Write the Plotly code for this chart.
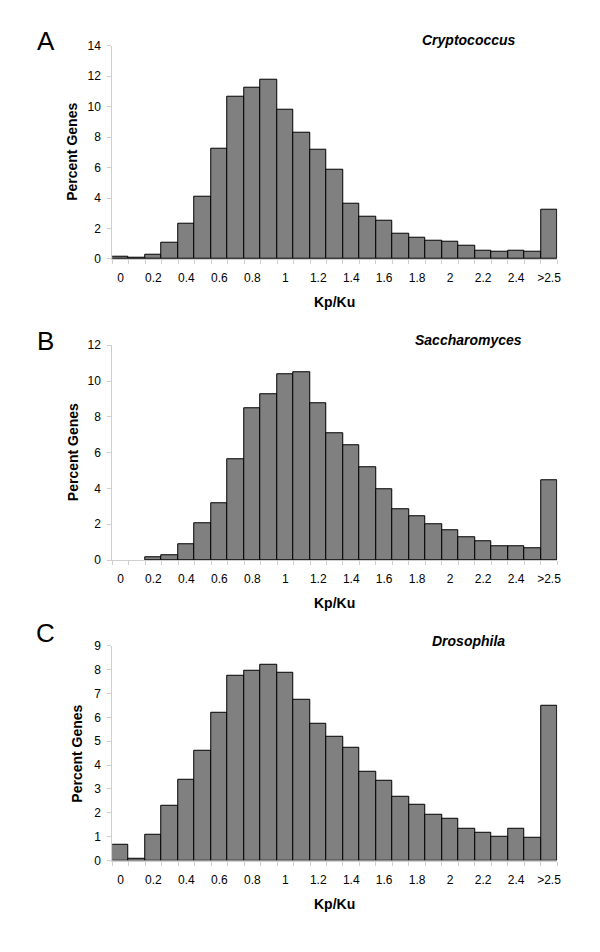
import plotly.graph_objects as go

W, H = 600, 952

categories = ["0", "0.1", "0.2", "0.3", "0.4", "0.5", "0.6", "0.7", "0.8", "0.9",
              "1", "1.1", "1.2", "1.3", "1.4", "1.5", "1.6", "1.7", "1.8", "1.9",
              "2", "2.1", "2.2", "2.3", "2.4", "2.5", ">2.5"]

cryptococcus = [0.15, 0.06, 0.28, 1.05, 2.33, 4.07, 7.22, 10.65, 11.23, 11.74,
                9.79, 8.30, 7.16, 5.89, 3.62, 2.80, 2.52, 1.64, 1.38, 1.19,
                1.10, 0.84, 0.54, 0.47, 0.54, 0.47, 3.21]

saccharomyces = [0, 0, 0.15, 0.29, 0.90, 2.06, 3.16, 5.61, 8.48, 9.25,
                 10.40, 10.51, 8.75, 7.10, 6.40, 5.19, 3.98, 2.83, 2.44, 1.98,
                 1.69, 1.28, 1.06, 0.79, 0.79, 0.68, 4.48]

drosophila = [0.67, 0.06, 1.09, 2.28, 3.40, 4.60, 6.21, 7.73, 7.94, 8.22,
              7.86, 6.74, 5.75, 5.17, 4.72, 3.70, 3.33, 2.66, 2.34, 1.93,
              1.76, 1.35, 1.18, 0.98, 1.35, 0.94, 6.50]

panel_letters = ["A", "B", "C"]
species = ["Cryptococcus", "Saccharomyces", "Drosophila"]
y_max = [14, 12, 9]
y_step = [2, 2, 1]
series = [cryptococcus, saccharomyces, drosophila]

x_title = "Kp/Ku"
y_title = "Percent Genes"

FONT = "Liberation Sans, Arial, sans-serif"
AXIS_GRAY = "#cfcfcf"

# pixel layout of each panel's plot area (top, bottom)
panel_px = [(39.3, 255.7), (343.3, 561.3), (648.3, 866.3)]
x_left_px, x_right_px = 113, 561
ytitle_x_px = [73, 73, 78]
letter_y_px = [34.5, 339, 635]
species_y_px = [34, 338, 643]

def px(x):
    return x / W

def py(y):
    return 1 - y / H

fig = go.Figure()
idx = list(range(len(categories)))
label_idx = idx[::2]

for i, vals in enumerate(series):
    n = i + 1
    xa = "x" if n == 1 else f"x{n}"
    ya = "y" if n == 1 else f"y{n}"
    fig.add_trace(go.Bar(
        x=idx, y=vals, xaxis=xa, yaxis=ya, width=1,
        marker=dict(color="#808080",
                    line=dict(color="#000000", width=[0 if v == 0 else 1 for v in vals])),
        showlegend=False, hoverinfo="skip"))
    top, bot = panel_px[i]
    xkey = "xaxis" if n == 1 else f"xaxis{n}"
    ykey = "yaxis" if n == 1 else f"yaxis{n}"
    fig.layout[xkey] = dict(
        domain=[px(x_left_px), px(x_right_px)], anchor=ya,
        range=[-0.5, len(categories) - 0.5],
        tickmode="array", tickvals=label_idx,
        ticktext=[categories[k] for k in label_idx],
        ticks="", ticklabelstandoff=8,
        showline=True, linecolor=AXIS_GRAY, linewidth=1,
        showgrid=False, zeroline=False,
        tickfont=dict(family=FONT, size=12, color="#000"),
        minor=dict(tick0=-0.5, dtick=1, ticks="outside", ticklen=4,
                   tickcolor=AXIS_GRAY, tickwidth=1, showgrid=False),
        fixedrange=True)
    fig.layout[ykey] = dict(
        domain=[py(bot), py(top)], anchor=xa,
        range=[0, y_max[i]], tickmode="linear", tick0=0, dtick=y_step[i],
        ticks="outside", ticklen=4, tickcolor=AXIS_GRAY, ticklabelstandoff=4,
        showline=True, linecolor=AXIS_GRAY, linewidth=1,
        showgrid=False, zeroline=False,
        tickfont=dict(family=FONT, size=12, color="#000"),
        fixedrange=True)

    # panel letter
    fig.add_annotation(xref="paper", yref="paper", x=px(46), y=py(letter_y_px[i]),
                       text=panel_letters[i], showarrow=False,
                       font=dict(family=FONT, size=26, color="#000"),
                       xanchor="center", yanchor="middle")
    # species name
    fig.add_annotation(xref="paper", yref="paper", x=px(472), y=py(species_y_px[i]),
                       text=f"<b><i>{species[i]}</i></b>", showarrow=False,
                       font=dict(family=FONT, size=14, color="#000"),
                       xanchor="center", yanchor="middle")
    # y title
    fig.add_annotation(xref="paper", yref="paper", x=px(ytitle_x_px[i]),
                       y=py((top + bot) / 2),
                       text=f"<b>{y_title}</b>", showarrow=False, textangle=-90,
                       font=dict(family=FONT, size=14, color="#000"),
                       xanchor="center", yanchor="middle")
    # x title
    fig.add_annotation(xref="paper", yref="paper", x=px((x_left_px + x_right_px) / 2),
                       y=py(bot + 44),
                       text=f"<b>{x_title}</b>", showarrow=False,
                       font=dict(family=FONT, size=14, color="#000"),
                       xanchor="center", yanchor="middle")

fig.update_layout(
    width=W, height=H, margin=dict(l=0, r=0, t=0, b=0),
    paper_bgcolor="white", plot_bgcolor="white",
    bargap=0, font=dict(family=FONT, color="#000"))

fig.write_html("out.html", config={"displayModeBar": False},
               post_script="document.body.style.margin='0';document.body.style.overflow='hidden';")
